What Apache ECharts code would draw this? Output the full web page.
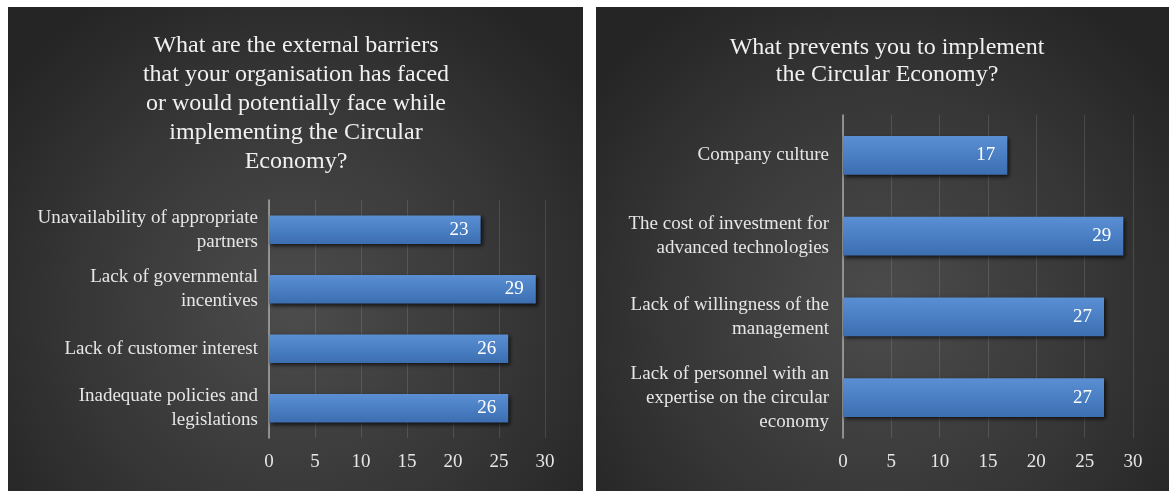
<!DOCTYPE html>
<html>
<head>
<meta charset="utf-8">
<script src="https://cdn.jsdelivr.net/npm/echarts@6/dist/echarts.min.js"></script>
<style>
html,body{margin:0;padding:0;background:#ffffff;}
#chart{width:1169px;height:491px;}
</style>
</head>
<body>
<div id="chart"></div>
<script>
// ---- data ----
const leftTitle = "What are the external barriers\nthat your organisation has faced\nor would potentially face while\nimplementing the Circular\nEconomy?";
const leftCategories = [
  "Unavailability of appropriate\npartners",
  "Lack of governmental\nincentives",
  "Lack of customer interest",
  "Inadequate policies and\nlegislations"
];
const leftValues = [23, 29, 26, 26];

const rightTitle = "What prevents you to implement\nthe Circular Economy?";
const rightCategories = [
  "Company culture",
  "The cost of investment for\nadvanced technologies",
  "Lack of willingness of the\nmanagement",
  "Lack of personnel with an\nexpertise on the circular\neconomy"
];
const rightValues = [17, 29, 27, 27];

const xTicksMin = 0, xTicksMax = 30, xTickStep = 5;

// ---- styles ----
const FONT = "'Liberation Serif','DejaVu Serif',serif";
const TXT = '#e6e6e6';
const panelFill = {
  type: 'radial', x: 0.5, y: 0.62, r: 0.75,
  colorStops: [
    {offset: 0, color: '#4c4c4c'},
    {offset: 0.6, color: '#363636'},
    {offset: 1, color: '#252525'}
  ]
};
const barFill = {
  type: 'linear', x: 0, y: 0, x2: 0, y2: 1,
  colorStops: [
    {offset: 0, color: '#5b8fd3'},
    {offset: 0.5, color: '#4a7fc4'},
    {offset: 1, color: '#3c6eb0'}
  ]
};

function xAxisCfg(gi){
  return {
    type: 'value', gridIndex: gi, min: xTicksMin, max: xTicksMax, interval: xTickStep,
    axisLine: {show: false}, axisTick: {show: false},
    splitLine: {show: true, lineStyle: {color: 'rgba(255,255,255,0.12)', width: 1}},
    axisLabel: {color: TXT, fontFamily: FONT, fontSize: 19, margin: 15}
  };
}
function yAxisCfg(gi, cats, margin){
  return {
    type: 'category', gridIndex: gi, data: cats, inverse: true,
    axisLine: {show: true, lineStyle: {color: '#a9a9a9', width: 1.5}},
    axisTick: {show: false},
    axisLabel: {color: TXT, fontFamily: FONT, fontSize: 19, lineHeight: 24, margin: margin, align: 'right'}
  };
}
function barSeries(gi, vals){
  return {
    type: 'bar', xAxisIndex: gi, yAxisIndex: gi, data: vals,
    barCategoryGap: '52%',
    itemStyle: {color: barFill, shadowColor: 'rgba(0,0,0,0.7)', shadowBlur: 4, shadowOffsetX: 2, shadowOffsetY: 2},
    label: {show: true, position: 'insideRight', distance: 12, color: '#ffffff', fontFamily: FONT, fontSize: 19},
    silent: true
  };
}

const chart = echarts.init(document.getElementById('chart'), null, {renderer: 'canvas'});
chart.setOption({
  animation: false,
  backgroundColor: '#ffffff',
  graphic: [
    {type: 'rect', z: -10, shape: {x: 8, y: 7, width: 575, height: 484}, style: {fill: panelFill}},
    {type: 'rect', z: -10, shape: {x: 596, y: 7, width: 573, height: 484}, style: {fill: panelFill}}
  ],
  title: [
    {text: leftTitle, left: 291, top: 26, textAlign: 'center',
     textStyle: {color: '#f0f0f0', fontFamily: FONT, fontSize: 24, fontWeight: 'normal', lineHeight: 29}},
    {text: rightTitle, left: 882, top: 29, textAlign: 'center',
     textStyle: {color: '#f0f0f0', fontFamily: FONT, fontSize: 24, fontWeight: 'normal', lineHeight: 27}}
  ],
  grid: [
    {left: 269, right: 1169 - 545, top: 200, bottom: 491 - 438, containLabel: false},
    {left: 843, right: 1169 - 1133, top: 115, bottom: 491 - 438, containLabel: false}
  ],
  xAxis: [xAxisCfg(0), xAxisCfg(1)],
  yAxis: [yAxisCfg(0, leftCategories, 11), yAxisCfg(1, rightCategories, 14)],
  series: [barSeries(0, leftValues), barSeries(1, rightValues)]
});
</script>
</body>
</html>
